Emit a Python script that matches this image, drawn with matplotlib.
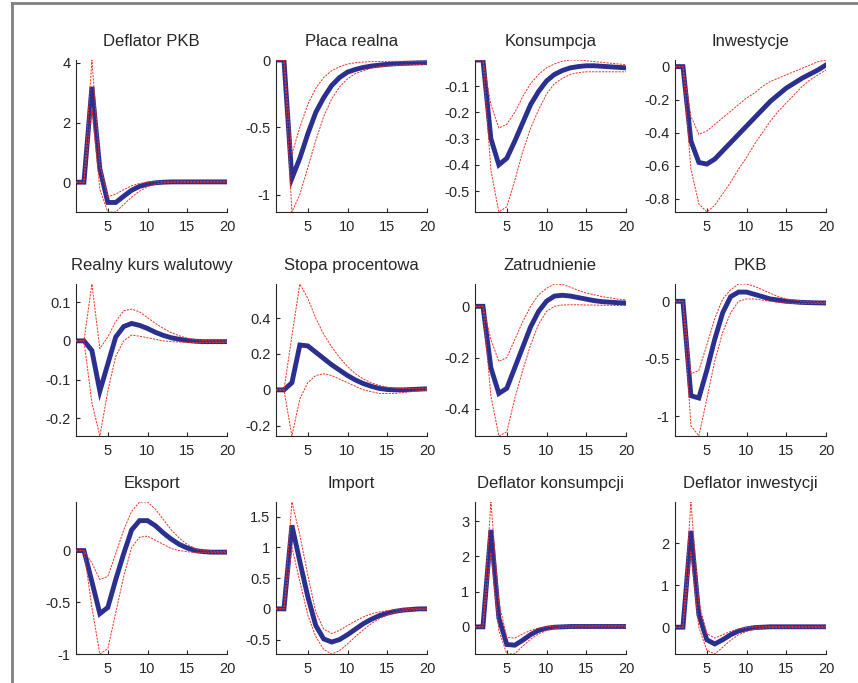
import matplotlib
matplotlib.use('Agg')
import matplotlib.pyplot as plt
from matplotlib.lines import Line2D
from matplotlib.ticker import FuncFormatter

plt.rcParams['font.family'] = ['Liberation Sans', 'DejaVu Sans']
plt.rcParams['axes.unicode_minus'] = False

periods = list(range(1, 21))

titles = ['Deflator PKB', 'Płaca realna', 'Konsumpcja', 'Inwestycje',
          'Realny kurs walutowy', 'Stopa procentowa', 'Zatrudnienie', 'PKB',
          'Eksport', 'Import', 'Deflator konsumpcji', 'Deflator inwestycji']

# median responses
deflator_pkb = [0, 0, 3.2, 0.45, -0.68, -0.68, -0.47, -0.27, -0.14, -0.06, -0.02, 0.0, 0.01, 0.01, 0.01, 0.01, 0.01, 0.01, 0.01, 0.01]
placa = [0, 0, -0.88, -0.73, -0.55, -0.39, -0.28, -0.19, -0.13, -0.09, -0.07, -0.055, -0.045, -0.038, -0.032, -0.028, -0.025, -0.023, -0.021, -0.02]
konsumpcja = [0, 0, -0.30, -0.40, -0.375, -0.31, -0.24, -0.17, -0.12, -0.08, -0.055, -0.04, -0.03, -0.025, -0.022, -0.022, -0.024, -0.026, -0.028, -0.03]
inwestycje = [0, 0, -0.45, -0.58, -0.59, -0.56, -0.51, -0.46, -0.41, -0.36, -0.31, -0.26, -0.21, -0.17, -0.13, -0.10, -0.07, -0.045, -0.02, 0.01]
kurs = [0, 0, -0.025, -0.13, -0.06, 0.01, 0.037, 0.045, 0.04, 0.032, 0.022, 0.014, 0.008, 0.004, 0.001, -0.001, -0.002, -0.002, -0.002, -0.002]
stopa = [0, 0, 0.04, 0.25, 0.245, 0.21, 0.175, 0.14, 0.11, 0.08, 0.055, 0.035, 0.02, 0.008, 0.002, 0.0, 0.0, 0.002, 0.004, 0.006]
zatrudnienie = [0, 0, -0.24, -0.34, -0.32, -0.24, -0.16, -0.08, -0.02, 0.02, 0.04, 0.043, 0.04, 0.034, 0.028, 0.022, 0.018, 0.016, 0.014, 0.013]
pkb = [0, 0, -0.82, -0.84, -0.6, -0.33, -0.1, 0.04, 0.08, 0.08, 0.06, 0.04, 0.02, 0.01, 0.0, -0.005, -0.01, -0.012, -0.014, -0.015]
eksport = [0, 0, -0.3, -0.61, -0.55, -0.28, -0.03, 0.2, 0.29, 0.29, 0.24, 0.17, 0.11, 0.06, 0.025, 0.0, -0.01, -0.015, -0.015, -0.015]
importy = [0, 0, 1.36, 0.77, 0.2, -0.27, -0.49, -0.54, -0.5, -0.42, -0.33, -0.24, -0.17, -0.11, -0.07, -0.04, -0.02, -0.01, 0.0, 0.0]
deflator_kons = [0, 0, 2.75, 0.25, -0.5, -0.52, -0.38, -0.22, -0.1, -0.04, -0.01, 0.0, 0.01, 0.01, 0.01, 0.01, 0.01, 0.01, 0.01, 0.01]
deflator_inw = [0, 0, 2.3, 0.3, -0.3, -0.4, -0.3, -0.18, -0.09, -0.04, -0.01, 0.0, 0.01, 0.01, 0.01, 0.01, 0.01, 0.01, 0.01, 0.01]

# upper bands
deflator_pkb_up = [0, 0, 4.1, 0.6, -0.49, -0.4, -0.25, -0.12, -0.04, 0.0, 0.02, 0.03, 0.03, 0.03, 0.03, 0.03, 0.03, 0.03, 0.03, 0.03]
placa_up = [0, 0, -0.7, -0.5, -0.33, -0.21, -0.13, -0.08, -0.05, -0.03, -0.02, -0.015, -0.012, -0.011, -0.01, -0.01, -0.01, -0.01, -0.01, -0.01]
konsumpcja_up = [0, 0, -0.17, -0.26, -0.245, -0.2, -0.14, -0.09, -0.055, -0.03, -0.015, -0.005, 0.0, 0.0, -0.003, -0.006, -0.009, -0.012, -0.015, -0.018]
inwestycje_up = [0, 0, -0.3, -0.41, -0.39, -0.35, -0.31, -0.27, -0.23, -0.19, -0.16, -0.12, -0.09, -0.07, -0.05, -0.03, -0.01, 0.01, 0.03, 0.04]
kurs_up = [0, 0, 0.147, -0.02, 0.01, 0.05, 0.078, 0.082, 0.075, 0.06, 0.045, 0.032, 0.021, 0.013, 0.007, 0.003, 0.001, 0.0, 0.0, -0.001]
stopa_up = [0, 0, 0.3, 0.59, 0.51, 0.4, 0.31, 0.24, 0.18, 0.13, 0.09, 0.06, 0.04, 0.025, 0.015, 0.01, 0.008, 0.008, 0.008, 0.01]
zatrudnienie_up = [0, 0, -0.13, -0.215, -0.2, -0.13, -0.06, 0.0, 0.045, 0.07, 0.087, 0.085, 0.075, 0.062, 0.052, 0.045, 0.038, 0.033, 0.028, 0.025]
pkb_up = [0, 0, -0.63, -0.6, -0.38, -0.15, 0.02, 0.1, 0.15, 0.15, 0.13, 0.1, 0.07, 0.04, 0.02, 0.01, 0.0, -0.005, -0.008, -0.01]
eksport_up = [0, 0, -0.12, -0.28, -0.25, -0.03, 0.2, 0.38, 0.47, 0.47, 0.4, 0.3, 0.2, 0.12, 0.06, 0.02, 0.0, -0.005, -0.008, -0.01]
importy_up = [0, 0, 1.74, 1.2, 0.55, -0.05, -0.33, -0.4, -0.35, -0.27, -0.2, -0.13, -0.08, -0.05, -0.03, -0.01, 0.0, 0.005, 0.01, 0.01]
deflator_kons_up = [0, 0, 3.54, 0.7, -0.3, -0.32, -0.2, -0.1, -0.03, 0.0, 0.02, 0.03, 0.03, 0.03, 0.03, 0.03, 0.03, 0.03, 0.03, 0.03]
deflator_inw_up = [0, 0, 2.99, 0.6, -0.15, -0.26, -0.18, -0.1, -0.04, -0.01, 0.01, 0.02, 0.02, 0.02, 0.02, 0.02, 0.02, 0.02, 0.02, 0.02]

# lower bands
deflator_pkb_lo = [0, 0, 2.5, -0.24, -1.0, -1.0, -0.75, -0.5, -0.3, -0.15, -0.06, -0.02, 0.0, 0.0, 0.0, 0.0, 0.0, 0.0, 0.0, 0.0]
placa_lo = [0, 0, -1.13, -1.0, -0.8, -0.6, -0.42, -0.29, -0.2, -0.14, -0.1, -0.08, -0.06, -0.05, -0.045, -0.04, -0.037, -0.035, -0.033, -0.03]
konsumpcja_lo = [0, 0, -0.42, -0.58, -0.56, -0.46, -0.35, -0.26, -0.19, -0.13, -0.09, -0.07, -0.055, -0.048, -0.045, -0.045, -0.045, -0.045, -0.045, -0.045]
inwestycje_lo = [0, 0, -0.62, -0.83, -0.88, -0.84, -0.77, -0.7, -0.62, -0.55, -0.47, -0.4, -0.33, -0.27, -0.22, -0.17, -0.12, -0.08, -0.05, -0.02]
kurs_lo = [0, 0, -0.16, -0.246, -0.13, -0.04, 0.0, 0.015, 0.012, 0.008, 0.004, 0.0, -0.002, -0.003, -0.004, -0.004, -0.004, -0.004, -0.004, -0.004]
stopa_lo = [0, 0, -0.257, -0.05, 0.04, 0.08, 0.09, 0.08, 0.06, 0.04, 0.02, 0.0, -0.01, -0.02, -0.02, -0.02, -0.015, -0.01, -0.005, 0.0]
zatrudnienie_lo = [0, 0, -0.35, -0.506, -0.49, -0.36, -0.25, -0.15, -0.07, -0.02, 0.0, 0.005, 0.006, 0.006, 0.005, 0.005, 0.004, 0.004, 0.003, 0.003]
pkb_lo = [0, 0, -1.08, -1.17, -0.85, -0.52, -0.27, -0.1, 0.0, 0.02, 0.02, 0.01, 0.0, -0.01, -0.015, -0.02, -0.02, -0.02, -0.02, -0.02]
eksport_lo = [0, 0, -0.55, -1.0, -0.95, -0.6, -0.25, 0.03, 0.13, 0.14, 0.1, 0.06, 0.02, 0.0, -0.01, -0.02, -0.02, -0.02, -0.02, -0.02]
importy_lo = [0, 0, 1.0, 0.45, -0.1, -0.45, -0.66, -0.735, -0.68, -0.57, -0.45, -0.34, -0.24, -0.16, -0.1, -0.06, -0.03, -0.02, -0.01, -0.01]
deflator_kons_lo = [0, 0, 2.1, -0.1, -0.77, -0.76, -0.55, -0.35, -0.2, -0.1, -0.05, -0.02, -0.01, 0.0, 0.0, 0.0, 0.0, 0.0, 0.0, 0.0]
deflator_inw_lo = [0, 0, 1.8, 0.0, -0.55, -0.64, -0.48, -0.31, -0.18, -0.1, -0.05, -0.02, -0.01, -0.01, -0.01, -0.01, -0.01, -0.01, -0.01, -0.01]

medians = [deflator_pkb, placa, konsumpcja, inwestycje, kurs, stopa,
           zatrudnienie, pkb, eksport, importy, deflator_kons, deflator_inw]
uppers = [deflator_pkb_up, placa_up, konsumpcja_up, inwestycje_up, kurs_up, stopa_up,
          zatrudnienie_up, pkb_up, eksport_up, importy_up, deflator_kons_up, deflator_inw_up]
lowers = [deflator_pkb_lo, placa_lo, konsumpcja_lo, inwestycje_lo, kurs_lo, stopa_lo,
          zatrudnienie_lo, pkb_lo, eksport_lo, importy_lo, deflator_kons_lo, deflator_inw_lo]

yticks = [[0, 2, 4], [-1, -0.5, 0], [-0.5, -0.4, -0.3, -0.2, -0.1], [-0.8, -0.6, -0.4, -0.2, 0],
          [-0.2, -0.1, 0, 0.1], [-0.2, 0, 0.2, 0.4], [-0.4, -0.2, 0], [-1, -0.5, 0],
          [-1, -0.5, 0], [-0.5, 0, 0.5, 1, 1.5], [0, 1, 2, 3], [0, 1, 2]]

W, H = 858, 683
fig = plt.figure(figsize=(W / 100, H / 100), dpi=100)

lefts = [76, 276, 475, 675]
tops = [60, 284, 502]
aw, ah = 151, 152

blue = '#2B2F8F'
red = '#F5301E'
dark = '#262626'

for i in range(12):
    r, c = divmod(i, 4)
    ax = fig.add_axes([lefts[c] / W, 1 - (tops[r] + ah) / H, aw / W, ah / H])
    ax.plot(periods, medians[i], color=blue, lw=3.5, solid_joinstyle='miter', zorder=2)
    ax.plot(periods, uppers[i], color=red, lw=0.7, dashes=(2.2, 1.2), zorder=3)
    ax.plot(periods, lowers[i], color=red, lw=0.7, dashes=(2.2, 1.2), zorder=3)
    lo = min(min(lowers[i]), min(medians[i]))
    hi = max(max(uppers[i]), max(medians[i]))
    ax.set_xlim(1, 20)
    ax.set_ylim(lo, hi)
    ax.set_xticks([5, 10, 15, 20])
    ax.set_yticks(yticks[i])
    ax.yaxis.set_major_formatter(FuncFormatter(lambda v, p: '%g' % v))
    ax.tick_params(direction='in', length=3, width=0.8, colors=dark, labelsize=10.5)
    ax.tick_params(axis='x', pad=6)
    ax.tick_params(axis='y', pad=4)
    for s in ['top', 'right']:
        ax.spines[s].set_visible(False)
    for s in ['left', 'bottom']:
        ax.spines[s].set_color(dark)
        ax.spines[s].set_linewidth(0.8)
    ax.set_title(titles[i], fontsize=12, color=dark, pad=10)

# grey frame around the picture
fig.add_artist(Line2D([12 / W, 12 / W], [0, 1 - 3 / H], color='#808080', lw=2))
fig.add_artist(Line2D([12 / W, 1], [1 - 3 / H, 1 - 3 / H], color='#808080', lw=2))

fig.savefig('out.png', dpi=100)
